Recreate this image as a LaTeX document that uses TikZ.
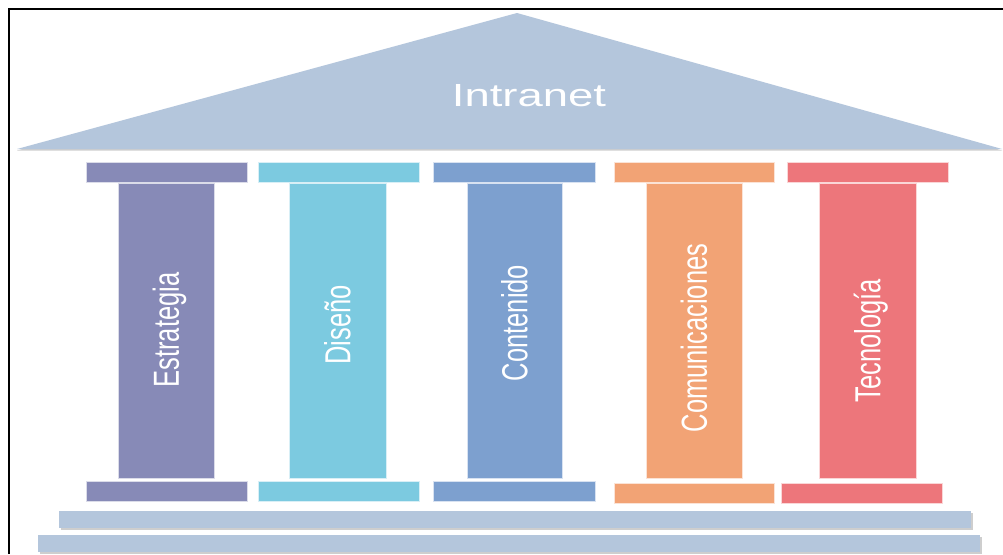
\documentclass[tikz,border=0pt]{standalone}
\usepackage{fontspec}
\setmainfont{Liberation Sans}
\usepackage{graphicx}

\definecolor{roofblue}{HTML}{B4C6DC}
\definecolor{colA}{HTML}{878AB7}
\definecolor{colB}{HTML}{7CCAE0}
\definecolor{colC}{HTML}{7DA0CF}
\definecolor{colD}{HTML}{F2A375}
\definecolor{colE}{HTML}{ED767B}

\tikzset{
  slab/.style={fill=#1, draw=white!70!#1, line width=0.6pt},
  dropshade/.style={fill=black!35, opacity=0.55},
  pillarlabel/.style={text=white, inner sep=0pt, rotate=90,
    text height=25.9pt, text depth=0pt,
    font=\fontsize{25.5}{30}\selectfont},
  rooflabel/.style={text=white, inner sep=0pt,
    text height=23pt, text depth=0pt,
    font=\fontsize{32}{38}\selectfont}
}

% one column: capital, shaft and base
% #1 colour, #2/#3 capital left/right, #4/#5 shaft left/right,
% #6/#7 base left/right, #8 base top
\newcommand{\pillar}[8]{%
  \fill[slab=#1] (#2,162) rectangle (#3,182);
  \fill[slab=#1] (#4,183) rectangle (#5,478);
  \fill[slab=#1] (#6,#8) rectangle (#7,{#8+20});
}

\begin{document}
\begin{tikzpicture}[x=1pt,y=-1pt]
\useasboundingbox (0,0) rectangle (1003,554);
\fill[white] (0,0) rectangle (1003,554);

% outer frame (left and top edges)
\draw[black, line width=2pt] (9,554) -- (9,9) -- (1003,9);

% roof
\fill[dropshade] (17,150.5) -- (517,15) -- (1002,150.5) -- cycle;
\fill[roofblue] (17,149) -- (517,13) -- (1002,149) -- cycle;
\node[rooflabel] (roof) at (529,94.5) {\scalebox{1.42}[1]{Intranet}};

% columns
\pillar{colA}{86}{247}{118}{214}{86}{247}{481}
\pillar{colB}{258}{419}{289}{386}{258}{419}{481}
\pillar{colC}{433}{595}{467}{562}{433}{595}{481}
\pillar{colD}{614}{774}{646}{742}{614}{774}{483}
\pillar{colE}{787}{948}{819}{916}{781}{942}{483}

\node[pillarlabel] (l1) at (166,330) {\scalebox{1}[1.42]{Estrategia}};
\node[pillarlabel] (l2) at (337.5,325) {\scalebox{1}[1.42]{Diseño}};
\node[pillarlabel] (l3) at (514.5,323) {\scalebox{1}[1.42]{Contenido}};
\node[pillarlabel] (l4) at (694,338) {\scalebox{1}[1.42]{Comunicaciones}};
\node[pillarlabel] (l5) at (867.5,341) {\scalebox{1}[1.42]{Tecnología}};

% steps
\fill[dropshade] (61,513) rectangle (973,530);
\fill[roofblue] (59,511) rectangle (971,528);
\fill[dropshade] (40,537) rectangle (982,554);
\fill[roofblue] (38,535) rectangle (980,552);
\end{tikzpicture}
\end{document}
